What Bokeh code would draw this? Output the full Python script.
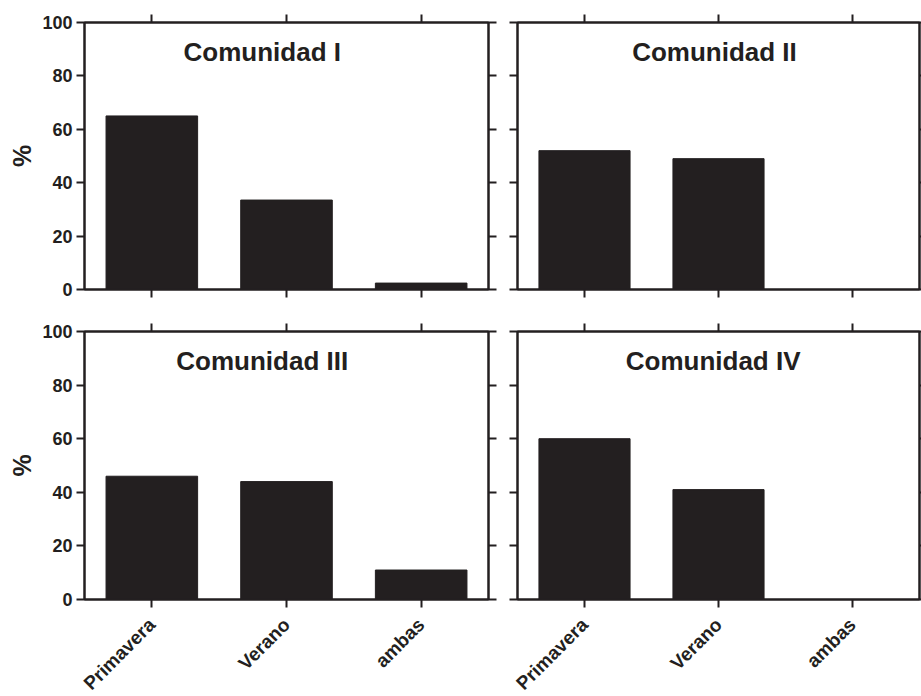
import math

from bokeh.embed import file_html
from bokeh.layouts import gridplot
from bokeh.models import CategoricalAxis, FactorRange, FixedTicker, Label, LinearAxis, Range1d
from bokeh.plotting import figure
from bokeh.resources import INLINE

# Categories and the percentage of each community per season
categories = ["Primavera", "Verano", "ambas"]
titles = ["Comunidad I", "Comunidad II", "Comunidad III", "Comunidad IV"]
comunidad_1 = [65, 33.5, 2.4]
comunidad_2 = [52, 49, 0]
comunidad_3 = [46, 44, 11]
comunidad_4 = [60, 41, 0]
y_ticks = [0, 20, 40, 60, 80, 100]
y_label = "%"

FONT = "Liberation Sans"
INK = "#231f20"


def style_axis(axis, show_labels):
    axis.axis_line_width = 2
    axis.axis_line_color = INK
    axis.major_tick_line_width = 2
    axis.major_tick_line_color = INK
    axis.major_tick_out = 8
    axis.major_tick_in = 0
    axis.minor_tick_line_color = None
    axis.major_label_text_font = FONT
    axis.major_label_text_font_style = "bold"
    if show_labels:
        axis.major_label_text_color = INK
        axis.major_label_text_font_size = "18px"
        axis.major_label_standoff = 4
    else:
        # ticks only: labels are not painted and take almost no room
        axis.major_label_text_color = None
        axis.major_label_text_font_size = "1px"
        axis.major_label_standoff = 0


def panel(values, title, col, row, title_x):
    left = col == 0
    bottom = row == 1
    p = figure(
        x_range=FactorRange(*categories, range_padding=0),
        y_range=Range1d(0, 100),
        frame_width=404 if left else 402,
        frame_height=267 if row == 0 else 268,
        min_border_left=84 if left else 15,
        min_border_right=14 if left else 2,
        min_border_top=22,
        min_border_bottom=20 if row == 0 else 97,
        x_axis_location=None,
        y_axis_location=None,
        output_backend="svg",
        toolbar_location=None,
        background_fill_color="white",
        border_fill_color="white",
    )
    p.xgrid.visible = False
    p.ygrid.visible = False
    p.outline_line_color = INK
    p.outline_line_width = 2

    p.vbar(x=categories, top=values, width=0.68, fill_color=INK, line_color=INK, line_width=1)

    ly = LinearAxis(ticker=FixedTicker(ticks=y_ticks))
    style_axis(ly, left)
    if left:
        ly.axis_label = y_label
        ly.axis_label_text_font = FONT
        ly.axis_label_text_font_style = "bold"
        ly.axis_label_text_font_size = "25px"
        ly.axis_label_text_color = INK
        ly.axis_label_standoff = 3
    p.add_layout(ly, "left")

    ry = LinearAxis(ticker=FixedTicker(ticks=y_ticks))
    style_axis(ry, False)
    p.add_layout(ry, "right")

    ax = CategoricalAxis()
    style_axis(ax, False)
    p.add_layout(ax, "above")

    bx = CategoricalAxis()
    style_axis(bx, bottom)
    if bottom:
        bx.major_label_text_font_size = "19px"
        bx.major_label_orientation = math.pi / 4
        bx.major_label_standoff = 14
    p.add_layout(bx, "below")

    p.add_layout(Label(
        x=title_x, y=89, text=title,
        text_font=FONT, text_font_style="bold", text_font_size="26px",
        text_color=INK, text_align="center", text_baseline="middle",
    ))
    return p


p1 = panel(comunidad_1, titles[0], 0, 0, 1.32)
p2 = panel(comunidad_2, titles[1], 1, 0, 1.47)
p3 = panel(comunidad_3, titles[2], 0, 1, 1.32)
p4 = panel(comunidad_4, titles[3], 1, 1, 1.46)

layout = gridplot([[p1, p2], [p3, p4]], toolbar_location=None)

open("out.html", "w").write(file_html(layout, INLINE))
